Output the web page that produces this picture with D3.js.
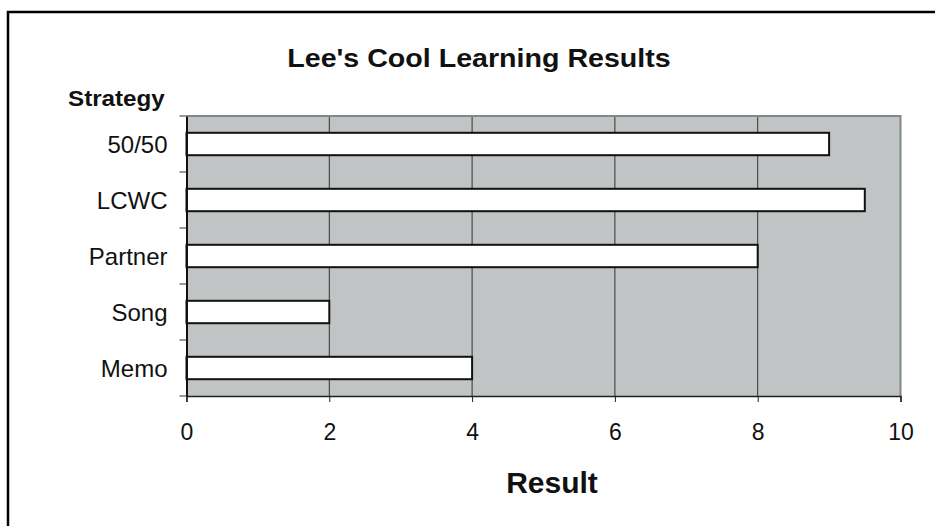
<!DOCTYPE html>
<html><head><meta charset="utf-8">
<script src="https://cdn.jsdelivr.net/npm/d3@7"></script>
<style>body{margin:0;background:#fff}svg{display:block}text{font-family:"Liberation Sans",Arial,sans-serif;fill:#111}</style>
</head><body><div id="c"></div>
<script>
const categories = ["50/50","LCWC","Partner","Song","Memo"];
const values = [9, 9.5, 8, 2, 4];
const xTicks = [0,2,4,6,8,10];
const title = "Lee's Cool Learning Results";
const yTitle = "Strategy";
const xTitle = "Result";

const W=935,H=526;
const svg=d3.select("#c").append("svg").attr("width",W).attr("height",H);
svg.append("rect").attr("x",8).attr("y",12).attr("width",W+20).attr("height",H+20)
  .attr("fill","#fff").attr("stroke","#000").attr("stroke-width",2.5);

const L=186.5,R=900.5,T=116,B=396;
const x=d3.scaleLinear().domain([0,10]).range([L,R]);
const y=d3.scaleBand().domain(categories).range([T,B]).paddingInner(0.6).paddingOuter(0.3);
const yb=d3.scaleBand().domain(categories).range([T,B]);

svg.append("rect").attr("x",L).attr("y",T).attr("width",R-L).attr("height",B-T).attr("fill","#c0c4c4");
svg.append("g").selectAll("line").data(xTicks.filter(d=>d>0&&d<10)).join("line")
  .attr("x1",d=>x(d)).attr("x2",d=>x(d)).attr("y1",T).attr("y2",B)
  .attr("stroke","#333").attr("stroke-width",1);
svg.append("path").attr("d",`M${L},${T}H${R}V${B}`).attr("fill","none").attr("stroke","#808888").attr("stroke-width",2);
svg.append("g").selectAll("rect").data(categories).join("rect")
  .attr("x",x(0)).attr("y",d=>y(d)).attr("width",(d,i)=>x(values[i])-x(0)).attr("height",y.bandwidth())
  .attr("fill","#fff").attr("stroke","#111").attr("stroke-width",2);
const xa=svg.append("g").attr("transform",`translate(0,${B})`)
  .call(d3.axisBottom(x).tickValues(xTicks).tickSize(6).tickPadding(22).tickFormat(d3.format("d")));
xa.select(".domain").attr("stroke","#222").attr("stroke-width",1.5);
xa.selectAll(".tick line").attr("stroke","#222");
xa.selectAll("text").style("font-size","23px").style("font-family","Liberation Sans, Arial, sans-serif").attr("fill","#111");
const ya=svg.append("g").attr("transform",`translate(${L},0)`).call(d3.axisLeft(yb).tickSize(0).tickPadding(19));
ya.select(".domain").attr("stroke","#111").attr("stroke-width",2);
ya.selectAll("text").style("font-size","24px").style("font-family","Liberation Sans, Arial, sans-serif").attr("fill","#111").attr("dy","0.36em");
const bounds=categories.map(c=>yb(c)).concat([B]);
svg.append("g").selectAll("line").data(bounds).join("line")
  .attr("x1",L-7).attr("x2",L).attr("y1",d=>d).attr("y2",d=>d).attr("stroke","#333").attr("stroke-width",1);

svg.append("text").attr("transform","translate(479,67) scale(1.1,1)").attr("text-anchor","middle")
  .style("font-size","26px").attr("font-weight","bold").text(title);
svg.append("text").attr("transform","translate(68,106) scale(1.1,1)").style("font-size","22px").attr("font-weight","bold").text(yTitle);
svg.append("text").attr("x",552).attr("y",493).attr("text-anchor","middle").style("font-size","30px").attr("font-weight","bold").text(xTitle);
</script></body></html>
